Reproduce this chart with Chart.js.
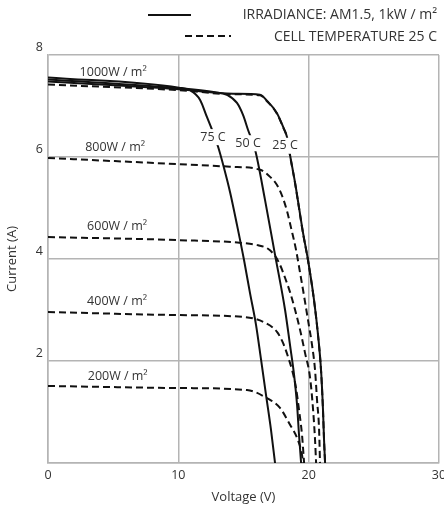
<!DOCTYPE html>
<html><head><meta charset="utf-8">
<script src="https://cdn.jsdelivr.net/npm/chart.js@4"></script>
<style>html,body{margin:0;padding:0;background:#fff;}</style>
</head><body>
<canvas id="c" width="444" height="509"></canvas>
<script>
// ---- data ----
// Solid curves: irradiance AM1.5, 1 kW/m², varying cell temperature
const v25C = [0, 10.05, 14.2, 16.27, 16.81, 17.57, 18.04, 18.34, 18.57, 18.96, 19.57, 19.95, 20.41, 20.72, 20.95, 21.1, 21.18, 21.26];
const i25C = [7.48, 7.33, 7.24, 7.22, 7.1, 6.86, 6.59, 6.39, 6.04, 5.49, 4.51, 3.98, 3.2, 2.51, 1.82, 1.04, 0.45, 0];
const v50C = [0, 10.05, 12.82, 13.74, 14.5, 14.97, 15.35, 15.89, 16.65, 17.42, 18.19, 18.57, 18.88, 19.11, 19.26, 19.42];
const i50C = [7.52, 7.35, 7.27, 7.22, 7.06, 6.82, 6.53, 6.14, 5.16, 4.08, 3.0, 2.31, 1.73, 1.14, 0.55, 0];
const v75C = [0, 10.05, 10.9, 11.67, 12.2, 12.59, 13.05, 13.51, 13.97, 14.5, 15.04, 15.5, 15.96, 16.35, 16.73, 17.11, 17.42];
const i75C = [7.56, 7.36, 7.31, 7.12, 6.78, 6.53, 6.2, 5.78, 5.31, 4.67, 3.98, 3.33, 2.71, 2.02, 1.33, 0.65, 0];
// Dashed curves: cell temperature 25 C, varying irradiance
const v1000W = [0, 10.05, 14.2, 16.27, 16.81, 17.57, 18.04, 18.34, 18.57, 18.96, 19.57, 19.95, 20.41, 20.72, 20.95, 21.1, 21.18, 21.26];
const i1000W = [7.42, 7.31, 7.23, 7.21, 7.09, 6.85, 6.58, 6.38, 6.03, 5.48, 4.5, 3.97, 3.19, 2.5, 1.81, 1.03, 0.44, 0];
const v800W = [0, 10.05, 13.97, 16.27, 17.04, 17.57, 17.96, 18.34, 18.65, 19.03, 19.34, 19.65, 19.95, 20.26, 20.49, 20.64, 20.8, 20.87];
const i800W = [5.98, 5.86, 5.81, 5.75, 5.61, 5.45, 5.24, 4.94, 4.61, 4.18, 3.73, 3.27, 2.8, 2.31, 1.82, 1.24, 0.65, 0];
const v600W = [0, 10.05, 15.12, 16.12, 16.88, 17.42, 17.81, 18.19, 18.57, 18.96, 19.34, 19.72, 20.11, 20.34, 20.49, 20.57];
const i600W = [4.43, 4.37, 4.31, 4.27, 4.2, 4.06, 3.88, 3.63, 3.35, 3.0, 2.61, 2.16, 1.67, 1.04, 0.45, 0];
const v400W = [0, 10.05, 15.12, 16.65, 17.57, 18.04, 18.42, 18.73, 19.03, 19.26, 19.49, 19.65];
const i400W = [2.96, 2.9, 2.86, 2.75, 2.57, 2.35, 2.08, 1.82, 1.47, 1.04, 0.55, 0];
const v200W = [0, 10.05, 15.27, 16.81, 17.8, 18.57, 19.11, 19.49, 19.57];
const i200W = [1.51, 1.47, 1.43, 1.27, 1.08, 0.75, 0.49, 0.16, 0];

// axis ticks
const xTicks = [0, 10, 20, 30];
const yTicks = [0, 2, 4, 6, 8];

// curve annotations (text + anchor in data units)
const noteText = ['1000W / m²', '800W / m²', '600W / m²', '400W / m²', '200W / m²', '75 C', '50 C', '25 C'];
const noteVoltage = [5.0, 5.15, 5.3, 5.3, 5.35, 12.66, 15.35, 18.19];
const noteCurrent = [7.65, 6.18, 4.63, 3.16, 1.69, 6.39, 6.27, 6.22];
const noteBoxed = [false, false, false, false, false, true, true, true];

const legendSolid = 'IRRADIANCE: AM1.5, 1kW / m²';
const legendDashed = 'CELL TEMPERATURE 25 C';

// ---- chart ----
const FONT = '"Open Sans", "Liberation Sans", sans-serif';
const GRID = '#b4b4b4';
const TXT = '#333';
const DASH = [7, 4];

function pts(vs, is) { return vs.map((v, k) => ({x: v, y: is[k]})); }
function ds(label, vs, is, dashed) {
  return {
    label, data: pts(vs, is), showLine: true, borderColor: '#111', backgroundColor: '#111',
    borderWidth: 2, borderDash: dashed ? DASH : [], pointRadius: 0, fill: false,
    cubicInterpolationMode: 'monotone'
  };
}

const datasets = [
  ds('25 C', v25C, i25C, false),
  ds('50 C', v50C, i50C, false),
  ds('75 C', v75C, i75C, false),
  ds('1000W', v1000W, i1000W, true),
  ds('800W', v800W, i800W, true),
  ds('600W', v600W, i600W, true),
  ds('400W', v400W, i400W, true),
  ds('200W', v200W, i200W, true)
];

const notes = {
  id: 'notes',
  afterDatasetsDraw(chart) {
    const {ctx, scales: {x, y}} = chart;
    ctx.save();
    ctx.font = '12.5px ' + FONT;
    ctx.textAlign = 'center';
    ctx.textBaseline = 'middle';
    noteText.forEach((t, k) => {
      const px = x.getPixelForValue(noteVoltage[k]);
      const py = y.getPixelForValue(noteCurrent[k]);
      if (noteBoxed[k]) {
        const w = ctx.measureText(t).width;
        ctx.fillStyle = '#fff';
        ctx.fillRect(px - w / 2 - 1, py - 8, w + 2, 16);
      }
      ctx.fillStyle = TXT;
      ctx.fillText(t, px, py);
    });
    ctx.restore();
  },
  afterDraw(chart) {
    const ctx = chart.ctx;
    ctx.save();
    ctx.font = '14px ' + FONT;
    ctx.fillStyle = TXT;
    ctx.textAlign = 'right';
    ctx.textBaseline = 'middle';
    ctx.fillText(legendSolid, 437, 15);
    ctx.fillText(legendDashed, 437, 37);
    ctx.strokeStyle = '#111';
    ctx.lineWidth = 2;
    ctx.beginPath(); ctx.moveTo(148, 15); ctx.lineTo(191, 15); ctx.stroke();
    ctx.setLineDash(DASH);
    ctx.beginPath(); ctx.moveTo(185, 36); ctx.lineTo(231, 36); ctx.stroke();
    ctx.restore();
  }
};

new Chart(document.getElementById('c'), {
  type: 'scatter',
  data: {datasets},
  plugins: [notes],
  options: {
    responsive: false,
    animation: false,
    devicePixelRatio: 1,
    layout: {padding: {top: 55, right: 5, left: 0, bottom: 0}},
    plugins: {legend: {display: false}, tooltip: {enabled: false}},
    scales: {
      x: {
        type: 'linear', min: xTicks[0], max: xTicks[xTicks.length - 1],
        afterBuildTicks(s) { s.ticks = xTicks.map(v => ({value: v})); },
        ticks: {color: TXT, font: {family: FONT, size: 12.5}, padding: 5, maxRotation: 0},
        grid: {color: GRID, lineWidth: 1.5, drawTicks: false},
        border: {color: GRID, width: 1.5},
        title: {display: true, text: 'Voltage (V)', color: TXT, font: {family: FONT, size: 13}, padding: {top: 0, bottom: 4}},
        afterFit(s) { s.height = 46; s.paddingLeft = 0; s.paddingRight = 0; }
      },
      y: {
        type: 'linear', min: yTicks[0], max: yTicks[yTicks.length - 1],
        afterBuildTicks(s) { s.ticks = yTicks.map(v => ({value: v})); },
        ticks: {color: TXT, font: {family: FONT, size: 12.5}, padding: 5, labelOffset: -8,
          callback: v => (v === 0 ? '' : v)},
        grid: {color: GRID, lineWidth: 1.5, drawTicks: false},
        border: {color: GRID, width: 1.5},
        title: {display: true, text: 'Current (A)', color: TXT, font: {family: FONT, size: 13}, padding: {top: 4, bottom: 0}},
        afterFit(s) { s.width = 48; s.paddingTop = 0; s.paddingBottom = 0; }
      }
    }
  }
});
</script>
</body></html>
